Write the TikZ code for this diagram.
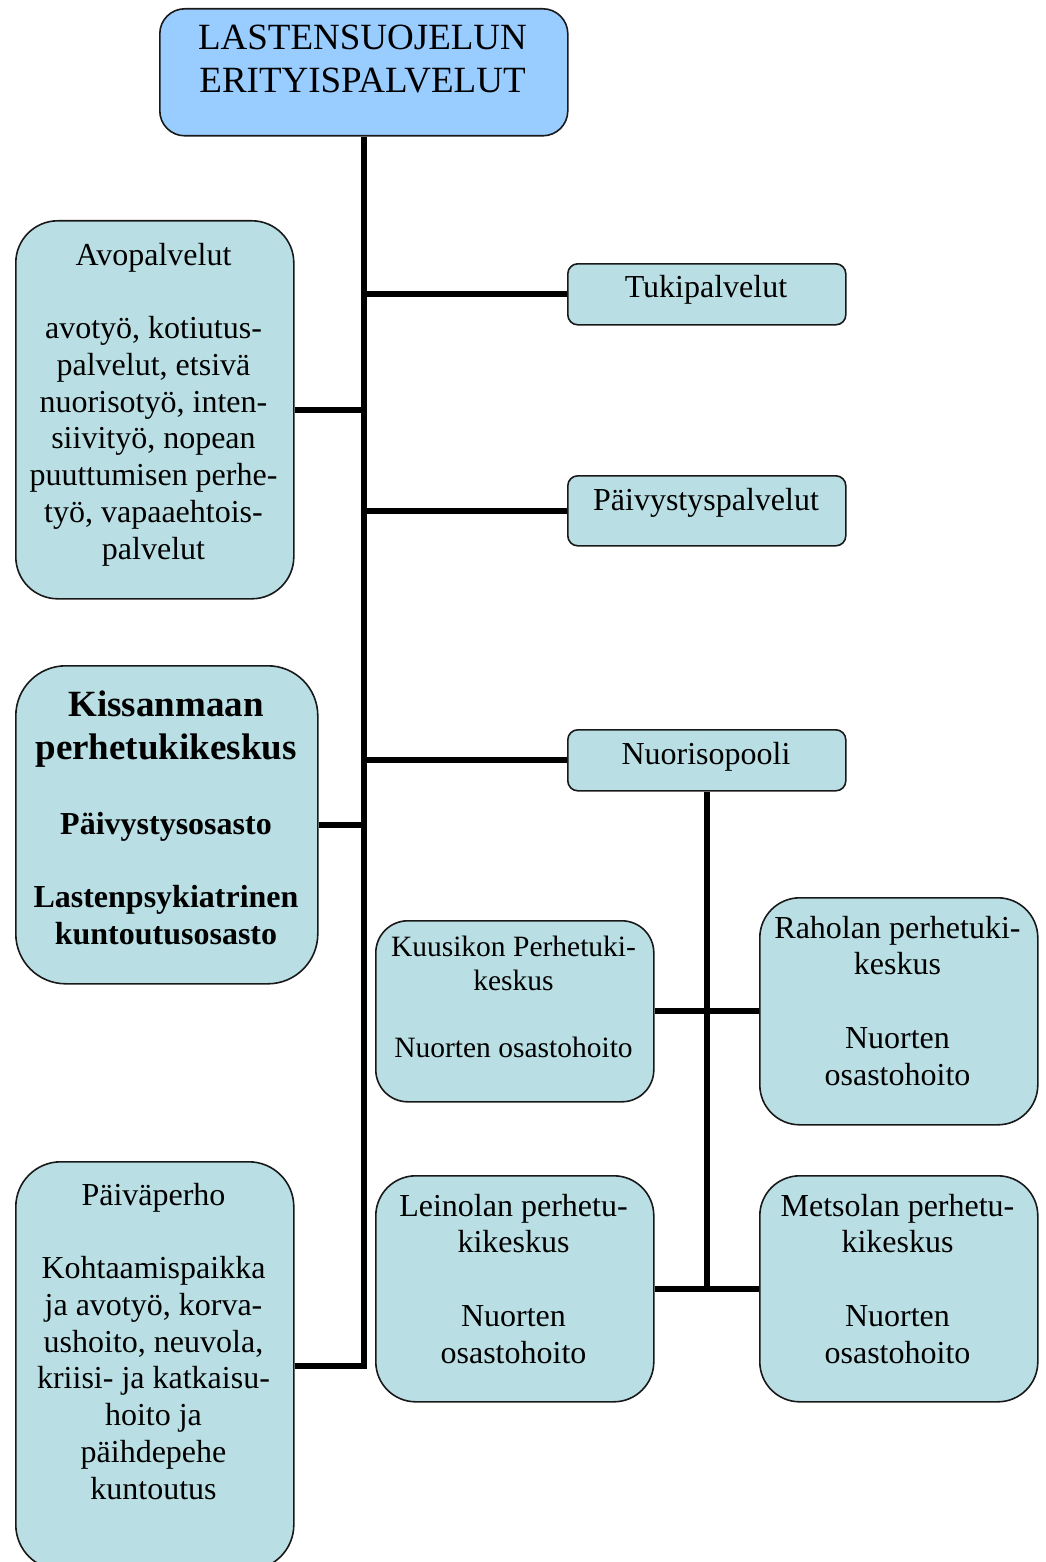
\documentclass[tikz,border=0pt]{standalone}
\usepackage{fontspec}
\setmainfont{Liberation Serif}
\definecolor{boxfill}{RGB}{185,223,228}
\definecolor{topfill}{RGB}{153,204,255}
\begin{document}
\begin{tikzpicture}[x=1pt,y=-1pt,
  box/.style={draw=black!90, line width=1.6pt, fill=boxfill, rectangle, anchor=north west, inner sep=0pt},
  link/.style={line width=6pt, draw=black},
  txt/.style={align=center, inner sep=0pt, anchor=north, font=\fontsize{32}{36.75}\selectfont},
  bigtxt/.style={txt, font=\fontsize{37}{43}\selectfont},
  smalltxt/.style={txt, font=\fontsize{29.5}{33.5}\selectfont},
  bigbold/.style={txt, font=\fontsize{37}{43}\selectfont\bfseries},
  midbold/.style={txt, font=\fontsize{32}{37.5}\selectfont\bfseries}
]
\useasboundingbox (0,0) rectangle (1045,1562);

% boxes
\node[box, fill=topfill, rounded corners=25pt, minimum width=408pt, minimum height=127pt] (top) at (159,8) {};
\node[box, rounded corners=42pt, minimum width=278pt, minimum height=378pt] (avo) at (15,220) {};
\node[box, rounded corners=10pt, minimum width=278pt, minimum height=61pt] (tuki) at (567,263) {};
\node[box, rounded corners=10pt, minimum width=278pt, minimum height=70pt] (paiv) at (567,475) {};
\node[box, rounded corners=50pt, minimum width=302pt, minimum height=318pt] (kis) at (15,665) {};
\node[box, rounded corners=10pt, minimum width=278pt, minimum height=61pt] (nuo) at (567,729) {};
\node[box, rounded corners=32pt, minimum width=278pt, minimum height=181pt] (kuu) at (375,920) {};
\node[box, rounded corners=40pt, minimum width=278pt, minimum height=227pt] (rah) at (759,897) {};
\node[box, rounded corners=40pt, minimum width=278pt, minimum height=226pt] (lei) at (375,1175) {};
\node[box, rounded corners=40pt, minimum width=278pt, minimum height=226pt] (met) at (759,1175) {};
\node[box, rounded corners=45pt, minimum width=278pt, minimum height=408pt] (pp) at (15,1161) {};

% connectors
\draw[link] (top.south) |- (pp.east);
\draw[link] (avo.east) -- (avo.east -| top.south);
\draw[link] (tuki.west) -- (tuki.west -| top.south);
\draw[link] (paiv.west) -- (paiv.west -| top.south);
\draw[link] (kis.east) -- (kis.east -| top.south);
\draw[link] (nuo.west) -- (nuo.west -| top.south);
\draw[link] (nuo.south) -- (nuo.south |- lei.east);
\draw[link] (kuu.east) -- (rah.west);
\draw[link] (lei.east) -- (met.west);

% texts
\node[bigtxt] (topT) at (362.5,18.9) {\strut LASTENSUOJELUN\\ERITYISPALVELUT};
\node[txt] (avoT) at (153.5,239.3) {\strut Avopalvelut\\[36.75pt]avotyö, kotiutus-\\palvelut, etsivä\\nuorisotyö, inten-\\siivityö, nopean\\puuttumisen perhe-\\työ, vapaaehtois-\\palvelut};
\node[txt] (tukiT) at (706,271.3) {\strut Tukipalvelut};
\node[txt] (paivT) at (706,484.3) {\strut Päivystyspalvelut};
\node[txt] (nuoT) at (706,738.3) {\strut Nuorisopooli};
\node[bigbold] (kisT1) at (166,686) {\strut Kissanmaan\\perhetukikeskus};
\node[midbold] (kisT2) at (166,808) {\strut Päivystysosasto};
\node[midbold] (kisT3) at (166,881) {\strut Lastenpsykiatrinen\\kuntoutusosasto};
\node[smalltxt] (kuuT) at (513.5,933) {\strut Kuusikon Perhetuki-\\keskus\\[33.5pt]Nuorten osastohoito};
\node[txt] (rahT) at (897.5,912.3) {\strut Raholan perhetuki-\\keskus\\[36.75pt]Nuorten\\osastohoito};
\node[txt] (leiT) at (513.5,1190.3) {\strut Leinolan perhetu-\\kikeskus\\[36.75pt]Nuorten\\osastohoito};
\node[txt] (metT) at (897.5,1190.3) {\strut Metsolan perhetu-\\kikeskus\\[36.75pt]Nuorten\\osastohoito};
\node[txt] (ppT) at (153.5,1179.3) {\strut Päiväperho\\[36.75pt]Kohtaamispaikka\\ja avotyö, korva-\\ushoito, neuvola,\\kriisi- ja katkaisu-\\hoito ja\\päihdepehe\\kuntoutus};
\end{tikzpicture}
\end{document}
